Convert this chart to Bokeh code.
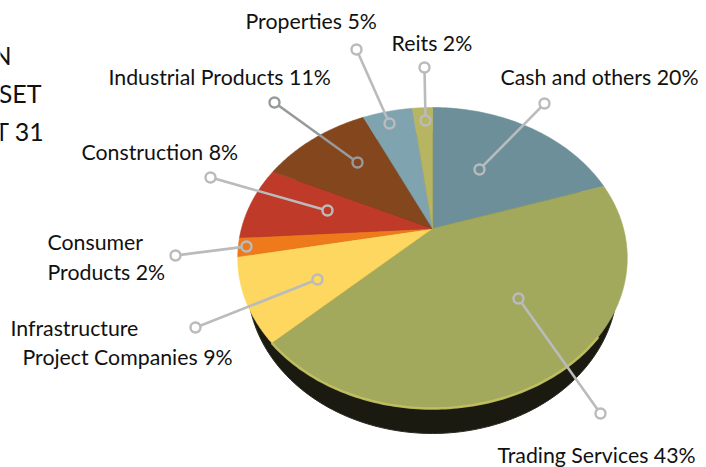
import math
from bokeh.plotting import figure
from bokeh.core.properties import value
from bokeh.embed import file_html
from bokeh.resources import INLINE

categories = ["Cash and others", "Trading Services", "Infrastructure Project Companies",
              "Consumer Products", "Construction", "Industrial Products", "Properties", "Reits"]
shares = [20, 43, 9, 2, 8, 11, 5, 2]
colors = ["#6c8f9a", "#a3a95c", "#fdd760", "#ee7a1c", "#bf3a28", "#84461c", "#7fa4af", "#b8b562"]

label_text = ["Properties 5%", "Reits 2%", "Cash and others 20%", "Industrial Products 11%",
              "Construction 8%", "Consumer", "Products 2%", "Infrastructure",
              "Project Companies 9%", "Trading Services 43%"]
label_x = [245, 391, 500, 108, 81, 47, 47, 10, 22, 497]
label_y = [20.5, 42.5, 76.5, 76.5, 151.5, 241.5, 271.5, 327.5, 356.5, 454]

title_text = ["N", "SET", "T 31"]
title_right = [11, 41, 44]
title_y = [54, 92, 130]

lead_x0 = [356, 424, 544, 274, 210, 175, 195, 600]
lead_y0 = [49, 67, 103, 102, 177, 255, 327, 413]
lead_x1 = [389, 425, 479, 357, 327, 246, 317, 518]
lead_y1 = [123, 120, 169, 162, 210, 246, 279, 298]
lead_col = ["#b9bbbc", "#b9bbbc", "#b9bbbc", "#97999b", "#b9bbbc", "#b9bbbc", "#b9bbbc", "#b9bbbc"]

CX, CY, A, B, K = 432, 228, 191, 144.7, -0.196

def project(theta, sx=1.0, dy=0.0):
    x, y = math.sin(theta), -math.cos(theta)
    d = 1 + K * y
    return CX + sx * A * x / d, CY + dy + B * y / d

def arc(f0, f1, n=60, **kw):
    pts = [project(2 * math.pi * (f0 + (f1 - f0) * i / n), **kw) for i in range(n + 1)]
    return [p[0] for p in pts], [p[1] for p in pts]

p = figure(width=706, height=467, x_range=(0, 706), y_range=(467, 0),
           toolbar_location=None, output_backend="svg", min_border=0,
           x_axis_type=None, y_axis_type=None, outline_line_color=None)
p.grid.visible = False

wx, wy = arc(0, 1, n=240, sx=0.95, dy=25)
p.patch(wx, wy, fill_color="#1b1a10", line_color="#2b2a20", line_width=1)

total = sum(shares)
cum = 0.0
for v, col in zip(shares, colors):
    f0, f1 = cum / total, (cum + v) / total
    ax, ay = arc(f0, f1)
    p.patch([CX] + ax, [CY] + ay, fill_color=col, line_color=col, line_width=0.6)
    cum += v

f0 = shares[0] / total
f1 = (shares[0] + shares[1]) / total
rx, ry = arc(f0 + (f1 - f0) * 0.38, f1, n=100)
p.line(rx, ry, line_color="#c6c464", line_width=2.5, line_alpha=0.9)

R = 5
xs, ys = [], []
for x0, y0, x1, y1 in zip(lead_x0, lead_y0, lead_x1, lead_y1):
    L = math.hypot(x1 - x0, y1 - y0)
    ux, uy = (x1 - x0) / L, (y1 - y0) / L
    xs.append([x0 + ux * R, x1 - ux * R])
    ys.append([y0 + uy * R, y1 - uy * R])
p.multi_line(xs, ys, line_color=lead_col, line_width=2.6)
p.scatter(lead_x0 + lead_x1, lead_y0 + lead_y1, marker="circle", size=10,
          fill_color=None, line_color=lead_col + lead_col, line_width=2.4)

p.text(label_x, label_y, text=label_text, text_font=value("Lato"), text_font_size="21.3px",
       text_color="#111111", text_baseline="middle", text_align="left")
p.text(title_right, title_y, text=title_text, text_font=value("Lato"), text_font_size="25px",
       text_color="#111111", text_baseline="middle", text_align="right")

open("out.html", "w").write(file_html(p, INLINE))
